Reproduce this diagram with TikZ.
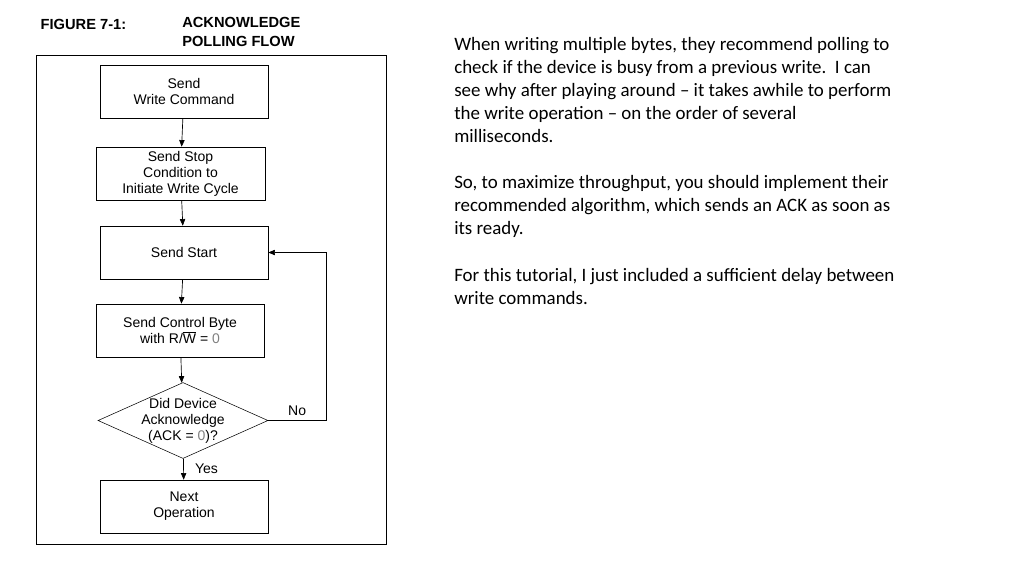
\documentclass[tikz,border=0pt]{standalone}
\usepackage{fontspec}
\setmainfont{Liberation Sans}
\newfontfamily\notefont{Carlito}
\usetikzlibrary{positioning,shapes.geometric,arrows.meta}
\tikzset{
  stepbox/.style={draw, minimum width=168*0.75pt, minimum height=53*0.75pt, align=center, font=\fontsize{10.5}{12}\selectfont, inner sep=1pt},
  decision/.style={draw, diamond, aspect=2.25, minimum width=170*0.75pt, minimum height=76*0.75pt, align=center, font=\fontsize{10.5}{12}\selectfont, inner sep=-7pt},
  flow/.style={-{Triangle[length=5pt,width=4pt]}, line width=0.5pt}
}
\begin{document}
\begin{tikzpicture}[x=0.75pt,y=0.75pt,yscale=-1,xscale=1]
\useasboundingbox (0,0) rectangle (1024,576);

% caption
\node [anchor=west, font=\bfseries\fontsize{11}{13}\selectfont] (fig) at (36,24) {FIGURE 7-1:};
\node [anchor=north west, align=left, inner sep=0pt, font=\bfseries\fontsize{11}{14.5}\selectfont] (title) at (182,17) {ACKNOWLEDGE\\POLLING FLOW};

% frame
\draw [line width=0.6pt] (36,55) rectangle (386,544);

% steps
\node [stepbox] (write) at (184,91.5) {Send\\Write Command};
\node [stepbox, minimum width=169*0.75pt] (stop) at (180.5,173.5) {Send Stop\\Condition to\\Initiate Write Cycle};
\node [stepbox] (start) at (184,252.5) {Send Start};
\node [stepbox] (ctrl) at (180,330.5) {Send Control Byte\\with R/$\overline{\mbox{W}}$ = {\color{gray}0}};
\node [decision] (ack) at (183,420.5) {Did Device\\Acknowledge\\(ACK = {\color{gray}0})?};
\node [stepbox] (next) at (184,506.5) {Next\\Operation};
\coordinate (loop) at (326,420.5);

\draw [flow] (write) -- (stop);
\draw [flow] (stop) -- (start);
\draw [flow] (start) -- (ctrl);
\draw [flow] (ctrl) -- (ack);
\draw [flow] (ack) -- node [right=5pt, font=\fontsize{10.5}{12}\selectfont] {Yes} (next);
\draw [flow] (ack.east) -- node [above, font=\fontsize{10.5}{12}\selectfont] {No} (loop) |- (start.east);

% notes
\node [anchor=north west, align=left, inner sep=0pt, font=\notefont\fontsize{14.2}{17.3}\selectfont] (notes) at (454,37)
{When writing multiple bytes, they recommend polling to\\
check if the device is busy from a previous write.\ \ I can\\
see why after playing around – it takes awhile to perform\\
the write operation – on the order of several\\
milliseconds.\\[17.3pt]
So, to maximize throughput, you should implement their\\
recommended algorithm, which sends an ACK as soon as\\
its ready.\\[17.3pt]
For this tutorial, I just included a sufficient delay between\\
write commands.};
\end{tikzpicture}
\end{document}
